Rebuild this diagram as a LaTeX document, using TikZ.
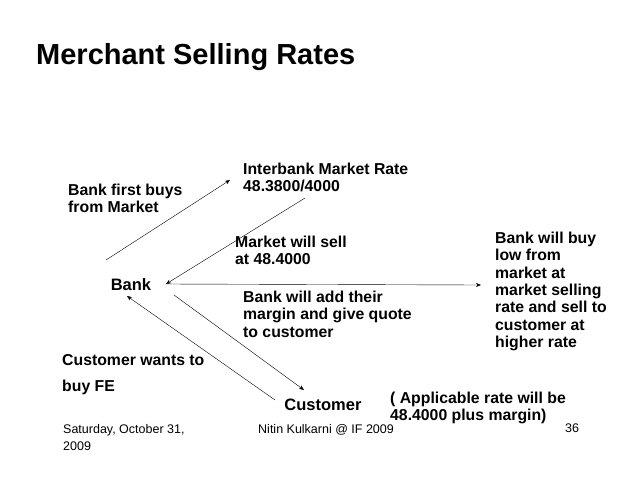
\documentclass[tikz,border=0pt]{standalone}
\usepackage{fontspec}
\setmainfont{Liberation Sans}
\usetikzlibrary{arrows.meta,positioning}
\begin{document}
\begin{tikzpicture}[x=1pt,y=-1pt,
  lbl/.style={font=\fontsize{15.8}{17.3}\selectfont\bfseries, align=left, inner sep=0pt, anchor=north west},
  foot/.style={font=\fontsize{12.5}{17}\selectfont, align=left, inner sep=0pt, anchor=north west},
  arr/.style={-{Stealth[length=5pt,width=4pt]}, thin}
]
  \useasboundingbox[fill=white] (0,0) rectangle (638,493);
  % Title
  \node[font=\fontsize{29}{33}\selectfont\bfseries, anchor=west, inner sep=0pt] (title) at (36,57) {Merchant Selling Rates};

  % Main labels
  \node[lbl] (rate) at (243,163) {Interbank Market Rate\\48.3800/4000};
  \node[lbl] (buys) at (68,184) {Bank first buys\\from Market};
  \node[lbl] (sell) at (235,236) {Market will sell\\at 48.4000};
  \node[lbl] (margin) at (243,291) {Bank will add their\\margin and give quote\\to customer};
  \node[lbl, font=\fontsize{15.8}{26}\selectfont\bfseries] (wants) at (62,354) {Customer wants to\\buy FE};
  \node[lbl] (low) at (495,232) {Bank will buy\\low from\\market at\\market selling\\rate and sell to\\customer at\\higher rate};
  \node[lbl] (appl) at (390,392) {( Applicable rate will be\\48.4000 plus margin)};
  \node[font=\fontsize{16.5}{18}\selectfont\bfseries, inner sep=0pt] (bank) at (131,285) {Bank};
  \node[font=\fontsize{16.5}{18}\selectfont\bfseries, inner sep=0pt] (cust) at (323,405) {Customer};

  % Connector ends
  \coordinate (b1) at (106,260);
  \coordinate (r1) at (230,180);
  \coordinate (r2) at (305,198);
  \coordinate (b2) at (166,284);
  \coordinate (m1) at (481,285);
  \coordinate (b3) at (174,295);
  \coordinate (c1) at (304,390);
  \coordinate (c2) at (275,400);
  \coordinate (b4) at (127,296);

  % Arrows
  \draw[arr] (b1) -- (r1);
  \draw[arr] (r2) -- (b2);
  \draw[arr] (b2) -- (m1);
  \draw[arr] (b3) -- (c1);
  \draw[arr] (c2) -- (b4);

  % Footer
  \node[foot] (date) at (63,424) {Saturday, October 31,\\2009};
  \node[foot] (author) at (258,424) {Nitin Kulkarni @ IF 2009};
  \node[foot] (page) at (565,424) {36};
\end{tikzpicture}
\end{document}
